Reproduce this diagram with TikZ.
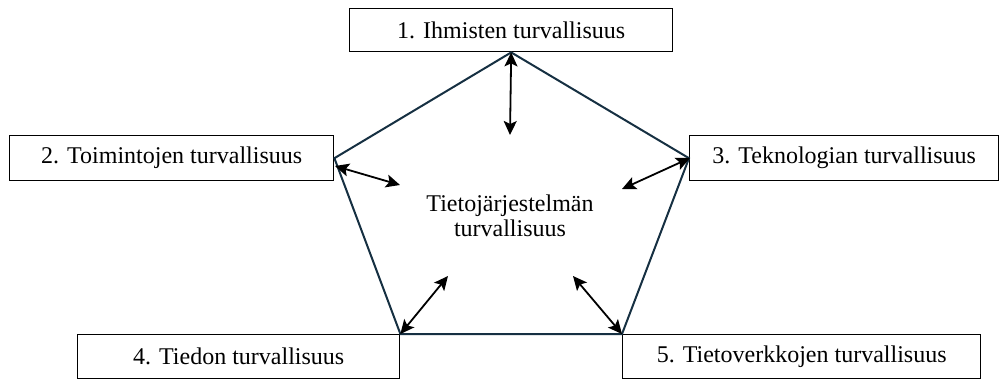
\documentclass[tikz,border=0pt]{standalone}
\usepackage{fontspec}
\setmainfont{Liberation Serif}
\usetikzlibrary{arrows.meta}
\definecolor{pent}{RGB}{22,48,66}
\tikzset{
  lbl/.style={draw=black, line width=1.4pt, fill=white, inner sep=0pt, font=\fontsize{24}{26}\selectfont, anchor=north west},
  pentline/.style={draw=pent, line width=2pt, line join=miter},
  dbl/.style={{Stealth[length=14pt,width=13pt,inset=3pt]}-{Stealth[length=14pt,width=13pt,inset=3pt]}, line width=1.8pt, black}
}
\begin{document}
\begin{tikzpicture}[x=1pt,y=-1pt]
\useasboundingbox (0,0) rectangle (999,378);
\node[lbl, minimum width=323pt, minimum height=43pt] (b1) at (349,8) {1. Ihmisten turvallisuus};
\node[lbl, minimum width=324pt, minimum height=45pt] (b2) at (9,135) {2. Toimintojen turvallisuus};
\node[lbl, minimum width=309pt, minimum height=45pt] (b3) at (689,135) {3. Teknologian turvallisuus};
\node[lbl, minimum width=322pt, minimum height=44pt] (b4) at (77,334) {4. Tiedon turvallisuus};
\node[lbl, minimum width=358pt, minimum height=44pt] (b5) at (622,334) {5. Tietoverkkojen turvallisuus};
\draw[pentline] (b1.south) -- (b3.west) -- (b5.north west) -- (b4.north east) -- (b2.east) -- cycle;
\node[font=\fontsize{24}{25}\selectfont, align=center] (c) at (510,216) {Tietojärjestelmän\\turvallisuus};
\coordinate (e1) at (510,135);
\coordinate (e2) at (400,185);
\coordinate (e3) at (622,189);
\coordinate (e4) at (448,276);
\coordinate (e5) at (573,276);
\coordinate (s2) at (335,166);
\coordinate (s3) at (690,158);
\draw[dbl] (b1.south) -- (e1);
\draw[dbl] (s2) -- (e2);
\draw[dbl] (s3) -- (e3);
\draw[dbl] (b4.north east) -- (e4);
\draw[dbl] (b5.north west) -- (e5);
\end{tikzpicture}
\end{document}
